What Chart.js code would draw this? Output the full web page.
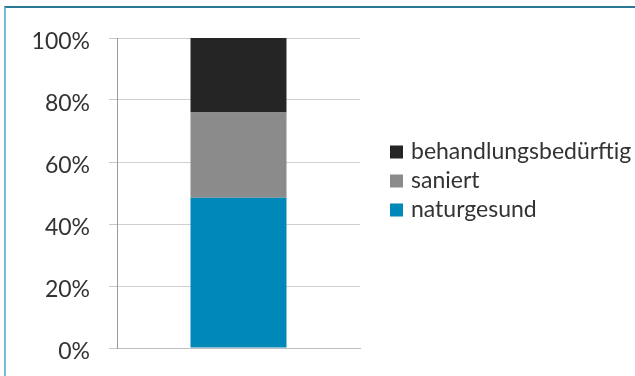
<!DOCTYPE html>
<html>
<head>
<meta charset="utf-8">
<script src="https://cdn.jsdelivr.net/npm/chart.js@4/dist/chart.umd.min.js"></script>
<style>
  html, body { margin: 0; padding: 0; background: #fff; }
  #frame {
    position: absolute; left: 4px; top: 6px;
    width: 629px; height: 368px;
    border-top: 2px solid #2a7893;
    border-left: 2px solid #74bedb;
  }
  #zahnstatus { display: block; }
</style>
</head>
<body>
<div id="frame"><canvas id="zahnstatus" width="629" height="368"></canvas></div>
<script>
var categories = [''];
var naturgesund = [48.5];
var saniert = [27.5];
var behandlungsbeduerftig = [24];
var yTicks = [0, 20, 40, 60, 80, 100];

var fontFamily = 'Lato, "Open Sans", sans-serif';
var textColor = '#333333';

// legend on the right, drawn by hand so it sits apart from the plot
var sideLegend = {
    id: 'sideLegend',
    afterDraw: function (chart) {
        var ctx = chart.ctx;
        var sets = chart.data.datasets.slice().reverse();
        var x = 384, y = 144, row = 29, box = 13;
        ctx.save();
        ctx.font = '23px ' + fontFamily;
        ctx.textBaseline = 'middle';
        sets.forEach(function (ds, i) {
            var cy = y + i * row;
            ctx.fillStyle = ds.backgroundColor;
            ctx.fillRect(x, cy - box / 2, box, box);
            ctx.fillStyle = textColor;
            ctx.fillText(ds.label, x + box + 8, cy);
        });
        ctx.restore();
    }
};

new Chart(document.getElementById('zahnstatus').getContext('2d'), {
    type: 'bar',
    data: {
        labels: categories,
        datasets: [
            { label: 'naturgesund', data: naturgesund, backgroundColor: '#0088b8' },
            { label: 'saniert', data: saniert, backgroundColor: '#8b8b8b' },
            { label: 'behandlungsbedürftig', data: behandlungsbeduerftig, backgroundColor: '#252525' }
        ]
    },
    options: {
        responsive: false,
        animation: false,
        layout: { padding: { top: 30, bottom: 28, left: 0, right: 275 } },
        plugins: {
            legend: { display: false },
            tooltip: { enabled: false }
        },
        datasets: {
            bar: { barPercentage: 0.395, categoryPercentage: 1 }
        },
        scales: {
            x: {
                stacked: true,
                grid: { display: false },
                ticks: { display: false },
                border: { display: true, color: '#bdbdbd', width: 1 },
                afterFit: function (s) { s.height = 0; }
            },
            y: {
                stacked: true,
                min: 0,
                max: 100,
                afterBuildTicks: function (s) {
                    s.ticks = yTicks.map(function (v) { return { value: v }; });
                },
                afterFit: function (s) {
                    s.width = 111;
                    // plot edges come from layout.padding alone
                    s.paddingTop = 0;
                    s.paddingBottom = 0;
                },
                grid: { color: '#cfcfcf', lineWidth: 1, tickLength: 8, tickColor: '#c8c8c8' },
                border: { display: true, color: '#9a9a9a', width: 1 },
                ticks: {
                    padding: 19,
                    labelOffset: 4,
                    color: textColor,
                    font: { family: fontFamily, size: 23 },
                    callback: function (v) { return v + '%'; }
                }
            }
        }
    },
    plugins: [sideLegend]
});
</script>
</body>
</html>
